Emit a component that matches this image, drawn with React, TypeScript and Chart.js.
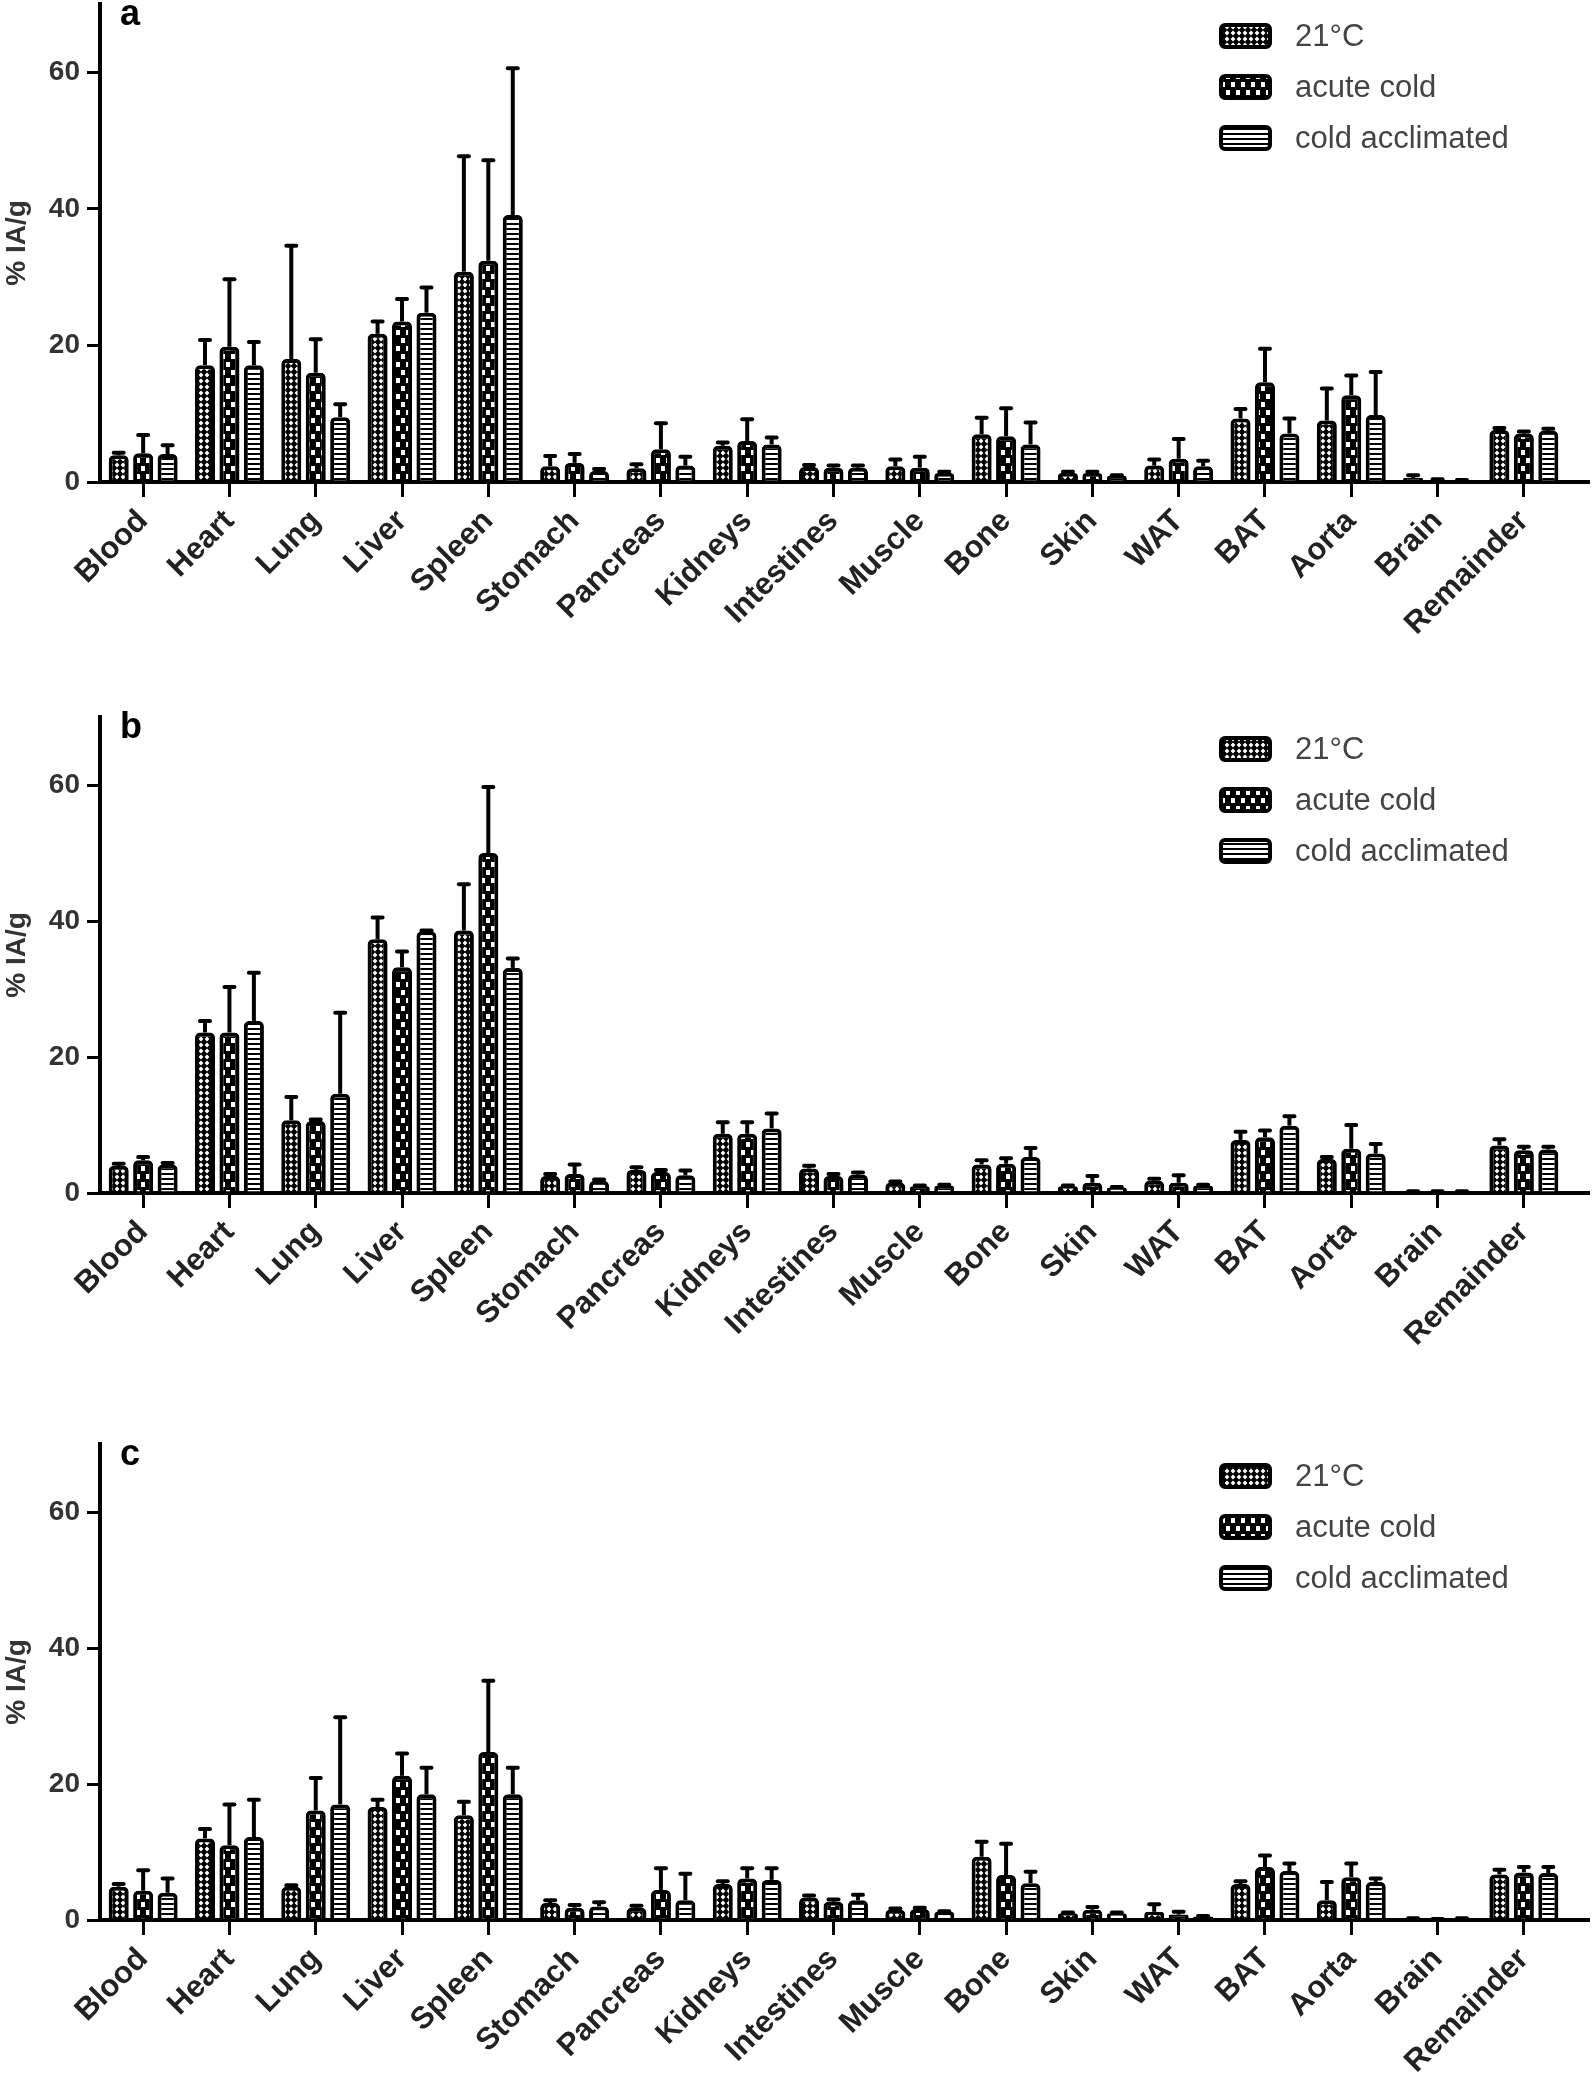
import React, { useEffect, useRef } from 'react';
import { Chart, registerables } from 'chart.js';

Chart.register(...registerables);

// ---------- data ----------
const categories = ['Blood', 'Heart', 'Lung', 'Liver', 'Spleen', 'Stomach', 'Pancreas', 'Kidneys', 'Intestines', 'Muscle', 'Bone', 'Skin', 'WAT', 'BAT', 'Aorta', 'Brain', 'Remainder'];
const seriesNames = ['21°C', 'acute cold', 'cold acclimated'];
const yTickValues = [0, 20, 40, 60];
const yAxisMax = 70;
const yAxisTitle = '% IA/g';

// panel a
const a21C = [3.9, 17.1, 18.0, 21.7, 30.8, 2.3, 2.0, 5.3, 2.2, 2.3, 7.0, 1.3, 2.4, 9.3, 9.0, 0.6, 7.6];
const a21CSd = [0.4, 3.7, 16.6, 1.8, 16.9, 1.5, 0.6, 0.5, 0.3, 1.0, 2.4, 0.2, 0.9, 1.4, 4.7, 0.4, 0.3];
const aAcute = [4.2, 19.8, 16.0, 23.5, 32.4, 2.8, 4.8, 6.0, 2.1, 2.1, 6.7, 1.3, 3.4, 14.6, 12.7, 0.3, 7.1];
const aAcuteSd = [2.7, 9.9, 4.9, 3.3, 14.7, 1.3, 3.8, 3.2, 0.3, 1.6, 4.1, 0.2, 2.9, 4.9, 2.9, 0.1, 0.3];
const aAccl = [4.1, 17.1, 9.5, 24.8, 39.1, 1.6, 2.4, 5.5, 2.1, 1.3, 5.5, 0.9, 2.3, 7.1, 9.8, 0.2, 7.5];
const aAcclSd = [1.3, 3.4, 1.9, 3.7, 21.5, 0.3, 1.3, 1.0, 0.3, 0.2, 3.2, 0.1, 0.8, 2.2, 6.3, 0.1, 0.3];

// panel b
const b21C = [4.0, 23.6, 10.7, 37.3, 38.6, 2.5, 3.4, 8.7, 3.6, 1.5, 4.2, 1.0, 1.8, 7.8, 5.0, 0.2, 7.0];
const b21CSd = [0.3, 1.7, 3.4, 3.2, 6.8, 0.3, 0.4, 1.7, 0.4, 0.2, 0.6, 0.1, 0.3, 1.2, 0.3, 0.05, 0.9];
const bAcute = [4.8, 23.6, 10.6, 33.2, 50.0, 2.8, 3.1, 8.7, 2.5, 1.0, 4.3, 1.5, 1.5, 8.2, 6.5, 0.2, 6.3];
const bAcuteSd = [0.5, 6.7, 0.2, 2.3, 9.7, 1.4, 0.3, 1.7, 0.3, 0.1, 0.8, 1.0, 1.1, 1.0, 3.5, 0.05, 0.5];
const bAccl = [4.2, 25.3, 14.6, 38.5, 33.1, 1.8, 2.6, 9.5, 2.7, 1.1, 5.3, 0.8, 1.1, 9.9, 5.8, 0.2, 6.4];
const bAcclSd = [0.2, 7.1, 11.9, 0.1, 1.4, 0.2, 0.7, 2.2, 0.3, 0.1, 1.3, 0.1, 0.1, 1.4, 1.4, 0.05, 0.4];

// panel c
const c21C = [4.9, 12.0, 4.9, 16.6, 15.4, 2.5, 1.8, 5.3, 3.3, 1.5, 9.3, 1.0, 1.2, 5.3, 2.9, 0.2, 6.7];
const c21CSd = [0.4, 1.4, 0.2, 1.1, 2.0, 0.4, 0.3, 0.4, 0.3, 0.2, 2.2, 0.1, 1.1, 0.4, 2.7, 0.05, 0.7];
const cAcute = [4.3, 11.0, 16.1, 21.2, 24.7, 1.8, 4.4, 6.1, 2.7, 1.6, 6.6, 1.5, 0.8, 7.8, 6.3, 0.1, 7.0];
const cAcuteSd = [3.0, 6.0, 4.8, 3.3, 10.5, 0.4, 3.2, 1.5, 0.3, 0.2, 4.6, 0.4, 0.4, 1.7, 2.0, 0.05, 0.8];
const cAccl = [4.0, 12.2, 17.0, 18.5, 18.5, 2.0, 2.9, 5.9, 2.9, 1.2, 5.4, 1.0, 0.5, 7.2, 5.6, 0.2, 6.9];
const cAcclSd = [2.1, 5.5, 12.8, 3.9, 3.9, 0.6, 3.9, 1.7, 0.8, 0.1, 1.7, 0.1, 0.1, 1.1, 0.5, 0.05, 0.9];

// ---------- styling ----------
const FONT = '"Liberation Sans", Arial, sans-serif';

function makePatterns(ctx: CanvasRenderingContext2D): CanvasPattern[] {
  // 21°C: black lattice with white diamonds
  const t1 = document.createElement('canvas');
  t1.width = 6; t1.height = 6;
  const g1 = t1.getContext('2d')!;
  g1.fillStyle = '#000'; g1.fillRect(0, 0, 6, 6);
  g1.fillStyle = '#fff';
  g1.beginPath(); g1.moveTo(3, 0.6); g1.lineTo(5.4, 3); g1.lineTo(3, 5.4); g1.lineTo(0.6, 3); g1.closePath(); g1.fill();

  // acute cold: black with staggered white squares
  const t2 = document.createElement('canvas');
  t2.width = 10; t2.height = 16;
  const g2 = t2.getContext('2d')!;
  g2.fillStyle = '#000'; g2.fillRect(0, 0, 10, 16);
  g2.fillStyle = '#fff';
  g2.fillRect(1, 2, 4, 5);
  g2.fillRect(6, 10, 4, 5);

  // cold acclimated: horizontal stripes
  const t3 = document.createElement('canvas');
  t3.width = 5; t3.height = 5;
  const g3 = t3.getContext('2d')!;
  g3.fillStyle = '#000'; g3.fillRect(0, 0, 5, 5);
  g3.fillStyle = '#fff'; g3.fillRect(0, 0, 5, 3);

  return [t1, t2, t3].map((t) => ctx.createPattern(t, 'repeat') as CanvasPattern);
}

const errorBarsPlugin = {
  id: 'errorBars',
  afterDatasetsDraw(chart: any) {
    const ctx = chart.ctx;
    const y = chart.scales.y;
    chart.data.datasets.forEach((ds: any, i: number) => {
      const meta = chart.getDatasetMeta(i);
      meta.data.forEach((bar: any, j: number) => {
        const v = ds.data[j];
        const e = ds.sd[j];
        if (!e) return;
        const yTop = y.getPixelForValue(v);
        const yErr = y.getPixelForValue(v + e);
        ctx.save();
        ctx.strokeStyle = '#000';
        ctx.lineWidth = 4;
        ctx.beginPath();
        ctx.moveTo(bar.x, yTop);
        ctx.lineTo(bar.x, yErr);
        ctx.stroke();
        ctx.lineCap = 'round';
        ctx.beginPath();
        ctx.moveTo(bar.x - 5, yErr);
        ctx.lineTo(bar.x + 5, yErr);
        ctx.stroke();
        ctx.restore();
      });
    });
  },
};

const decorPlugin = {
  id: 'decor',
  afterDraw(chart: any, _args: any, opts: any) {
    const ctx = chart.ctx;
    const area = chart.chartArea;
    ctx.save();
    // extend x axis line to the right
    ctx.strokeStyle = '#000';
    ctx.lineWidth = 4;
    ctx.beginPath();
    ctx.moveTo(area.right - 2, area.bottom);
    ctx.lineTo(area.right + 23, area.bottom);
    ctx.stroke();

    // panel letter
    ctx.fillStyle = '#000';
    ctx.font = `bold 36px ${FONT}`;
    ctx.textBaseline = 'alphabetic';
    ctx.textAlign = 'left';
    ctx.fillText(opts.letter, area.left + 20, area.top + 21);

    // legend
    const patterns = opts.patterns as CanvasPattern[];
    seriesNames.forEach((name, k) => {
      const cy = area.top + 32 + k * 51;
      ctx.fillStyle = patterns[k];
      ctx.strokeStyle = '#000';
      ctx.lineWidth = 4;
      ctx.beginPath();
      ctx.roundRect(1221, cy - 11, 49, 22, 4);
      ctx.fill();
      ctx.stroke();
      ctx.fillStyle = '#444';
      ctx.font = `31px ${FONT}`;
      ctx.textBaseline = 'middle';
      ctx.textAlign = 'left';
      ctx.fillText(name, 1295, cy + 1);
    });
    ctx.restore();
  },
};

type PanelProps = {
  letter: string;
  top: number;
  height: number;
  areaTop: number;
  areaBottom: number;
  means: number[][];
  sds: number[][];
};

function Panel({ letter, top, height, areaTop, areaBottom, means, sds }: PanelProps) {
  const ref = useRef<HTMLCanvasElement>(null);
  useEffect(() => {
    const canvas = ref.current!;
    const ctx = canvas.getContext('2d')!;
    const patterns = makePatterns(ctx);
    const chart = new Chart(canvas, {
      type: 'bar',
      data: {
        labels: categories,
        datasets: seriesNames.map((name, i) => ({
          label: name,
          data: means[i],
          sd: sds[i],
          backgroundColor: patterns[i],
          borderColor: '#000',
          borderWidth: 4,
          borderRadius: { topLeft: 5, topRight: 5, bottomLeft: 0, bottomRight: 0 },
          borderSkipped: 'start',
          categoryPercentage: 0.85,
          barPercentage: 0.82,
        })) as any,
      },
      options: {
        animation: false,
        responsive: false,
        maintainAspectRatio: false,
        devicePixelRatio: 1,
        layout: { padding: { top: areaTop, left: 0, right: 27, bottom: 0 } },
        plugins: {
          legend: { display: false },
          tooltip: { enabled: false },
          decor: { letter, patterns },
        } as any,
        scales: {
          x: {
            grid: { display: true, drawOnChartArea: false, drawTicks: true, tickLength: 15, lineWidth: 3, color: '#000', offset: false },
            border: { display: true, width: 4, color: '#000' },
            ticks: {
              autoSkip: false,
              minRotation: 45,
              maxRotation: 45,
              padding: 6,
              color: '#222',
              font: { family: FONT, size: 31, weight: 'bold' },
            },
            afterFit: (s: any) => {
              s.height = height - areaBottom;
              s.paddingLeft = 0; s.paddingRight = 0; s.paddingTop = 0; s.paddingBottom = 0;
            },
          },
          y: {
            min: 0,
            max: yAxisMax,
            afterBuildTicks: (s: any) => { s.ticks = yTickValues.map((v) => ({ value: v })); },
            grid: { display: true, drawOnChartArea: false, drawTicks: true, tickLength: 13, lineWidth: 3, color: '#000' },
            border: { display: true, width: 4, color: '#000' },
            ticks: { padding: 7, color: '#333', font: { family: FONT, size: 28, weight: 'bold' } },
            title: { display: true, text: yAxisTitle, color: '#333', font: { family: FONT, size: 28, weight: 'bold' }, padding: { top: 0, bottom: 0 } },
            afterFit: (s: any) => {
              s.width = 100;
              s.paddingLeft = 0; s.paddingRight = 0; s.paddingTop = 0; s.paddingBottom = 0;
            },
          },
        } as any,
      },
      plugins: [errorBarsPlugin, decorPlugin],
    });
    return () => chart.destroy();
  }, []);
  return (
    <canvas
      ref={ref}
      width={1594}
      height={height}
      style={{ position: 'absolute', left: 0, top, width: 1594, height, display: 'block' }}
    />
  );
}

export default function App() {
  return (
    <div style={{ position: 'absolute', left: 0, top: 0, width: 1594, height: 2094, background: '#fff' }}>
      <Panel letter="a" top={0} height={700} areaTop={4} areaBottom={482}
        means={[a21C, aAcute, aAccl]} sds={[a21CSd, aAcuteSd, aAcclSd]} />
      <Panel letter="b" top={700} height={720} areaTop={17} areaBottom={493}
        means={[b21C, bAcute, bAccl]} sds={[b21CSd, bAcuteSd, bAcclSd]} />
      <Panel letter="c" top={1420} height={674} areaTop={24} areaBottom={500}
        means={[c21C, cAcute, cAccl]} sds={[c21CSd, cAcuteSd, cAcclSd]} />
    </div>
  );
}
